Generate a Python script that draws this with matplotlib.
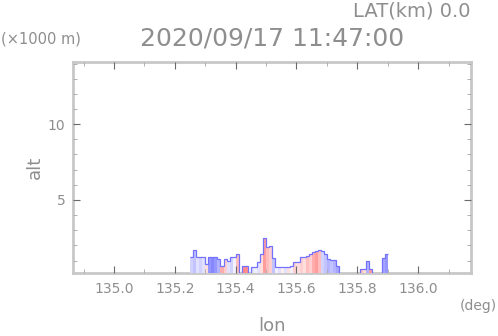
"""Vertical cross-section (lon-alt) of echo at LAT 0.0 km, 2020/09/17 11:47:00."""

import matplotlib
matplotlib.use('Agg')
import matplotlib.pyplot as plt
import numpy as np
from matplotlib.colors import LinearSegmentedColormap, Normalize
from matplotlib.ticker import MultipleLocator

# echo columns, 0.01 deg wide, first column starts at 135.25E
LON_START = 135.25
LON_STEP = 0.01

# echo top per column (km), 0 = no echo
echo_top = [1.23, 1.70, 1.23, 1.23, 1.23, 0.77, 1.23, 1.23, 1.23, 1.10,
            0.64, 1.10, 0.97, 1.23, 1.23, 1.43, 0.00, 0.64, 0.64, 0.00,
            0.57, 0.57, 0.90, 1.43, 2.50, 1.90, 1.96, 1.17, 0.57, 0.57,
            0.57, 0.57, 0.57, 0.64, 0.90, 0.90, 1.23, 1.23, 1.30, 1.43,
            1.56, 1.63, 1.70, 1.63, 1.43, 1.10, 1.04, 1.04, 0.64, 0.00,
            0.00, 0.00, 0.00, 0.00, 0.00, 0.00, 0.44, 0.44, 0.97, 0.44,
            0.00, 0.00, 0.00, 1.20, 1.43]

# doppler velocity per column (m/s), red = away, blue = toward
velocity = [-3, -4, -2, -3, -2, 2, -7, -8, -7, -5,
            5, 3, -2, -3, -1, 4, 0, 7, 7, 0,
            -2, -1, -2, 2, 6, 4, 3, -4, -1, -2,
            1, -2, 2, -1, 3, 2, 3, 2, 4, 3,
            5, 6, 4, -3, -4, -5, -4, -5, -6, 0,
            0, 0, 0, 0, 0, 0, 4, 2, -5, 6,
            0, 0, 0, -6, -7]

X_TICKS = [135.0, 135.2, 135.4, 135.6, 135.8, 136.0]
Y_TICKS = [5, 10]

GREY_TEXT = '#8e8e8e'

fig = plt.figure(figsize=(4.98, 3.36), dpi=100)
ax = fig.add_axes([73 / 498, 1 - 273 / 336, 398 / 498, 211 / 336])

n = len(echo_top)
edges = LON_START + LON_STEP * np.arange(n + 1)
centers = edges[:-1] + LON_STEP / 2

cmap = LinearSegmentedColormap.from_list('vel', ['#5a5aff', '#ffffff', '#ff4a4a'])
norm = Normalize(-11, 11)
ax.bar(centers, echo_top, width=LON_STEP, color=cmap(norm(velocity)),
       linewidth=0, align='center')
ax.stairs(echo_top, edges, baseline=None, color='#7272ff', linewidth=0.9)

ax.set_xlim(134.865, 136.174)
ax.set_ylim(0.18, 14.1)

ax.xaxis.set_major_locator(MultipleLocator(0.2))
ax.xaxis.set_minor_locator(MultipleLocator(0.1))
ax.yaxis.set_major_locator(MultipleLocator(5))
ax.yaxis.set_minor_locator(MultipleLocator(1))
ax.set_xticks(X_TICKS, [f'{t:.1f}' for t in X_TICKS])
ax.set_yticks(Y_TICKS, [str(t) for t in Y_TICKS])

ax.tick_params(which='both', direction='in', top=True, right=True,
               labelcolor=GREY_TEXT, labelsize=10)
ax.tick_params(which='major', length=5, width=0.8, color='#6a6a6a')
ax.tick_params(which='minor', length=3, width=0.7, color='#b0b0b0')
ax.tick_params(axis='x', pad=6.5)
ax.tick_params(axis='y', pad=5.5)

for sp in ax.spines.values():
    sp.set_color('#c8c8c8')
    sp.set_linewidth(2.0)
    sp.set_zorder(0.5)

fig.text(470 / 498, 1 - 11 / 336, 'LAT(km) 0.0', ha='right', va='center',
         fontsize=14, color=GREY_TEXT)
fig.text(272 / 498, 1 - 39 / 336, '2020/09/17 11:47:00', ha='center', va='center',
         fontsize=18, color=GREY_TEXT)
fig.text(1 / 498, 1 - 39 / 336, '(×1000 m)', ha='left', va='center',
         fontsize=10.5, color=GREY_TEXT)
fig.text(35 / 498, 1 - 167 / 336, 'alt', ha='center', va='center', rotation=90,
         fontsize=13, color=GREY_TEXT)
fig.text(272 / 498, 1 - 326 / 336, 'lon', ha='center', va='center',
         fontsize=13, color=GREY_TEXT)
fig.text(497 / 498, 1 - 306 / 336, '(deg)', ha='right', va='center',
         fontsize=10, color=GREY_TEXT)

fig.savefig('out.png', dpi=100)
